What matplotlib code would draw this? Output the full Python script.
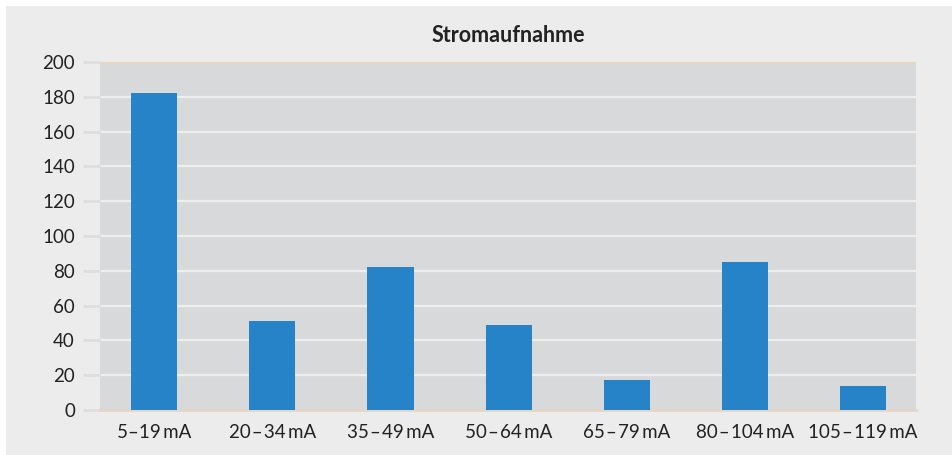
import numpy as np
import matplotlib.pyplot as plt
from matplotlib.patches import Rectangle

plt.rcParams['font.family'] = ['Lato', 'DejaVu Sans']

# Stromaufnahme per Bereich
categories = ['5\u201319\u2009mA', '20\u200a\u2013\u200a34\u2009mA', '35\u200a\u2013\u200a49\u2009mA',
              '50\u200a\u2013\u200a64\u2009mA', '65\u200a\u2013\u200a79\u2009mA',
              '80\u200a\u2013\u200a104\u2009mA', '105\u200a\u2013\u200a119\u2009mA']
values = [182, 51, 82, 49, 17, 85, 14]
yticks = [0, 20, 40, 60, 80, 100, 120, 140, 160, 180, 200]

fig = plt.figure(figsize=(9.52, 4.55), dpi=100)
fig.patch.set_facecolor('white')
# grey panel behind everything, white strip top and left
fig.patches.append(Rectangle((6/952, 0), 1, 1 - 6/455, transform=fig.transFigure,
                             facecolor='#ECECEC', edgecolor='none', zorder=-10))

ax = fig.add_axes([100/952, 1 - 410/455, 816/952, 348/455])
ax.set_facecolor('#D8D9DB')

x = np.arange(len(categories))
ax.bar(x, values, width=0.39, color='#2783C8', zorder=3)

ax.set_ylim(0, 200)
ax.set_xlim(-0.46, 6.45)
ax.set_yticks(yticks)
ax.set_xticks(x)
ax.set_xticklabels(categories, fontsize=13.5, color='#222222')
ax.tick_params(axis='y', labelsize=13.5, colors='#222222', length=12, width=2,
               color='#DEDEDE', pad=6)
ax.tick_params(axis='x', length=0, pad=10)

for y in yticks[1:-1]:
    ax.axhline(y, color='#EEEEEE', linewidth=1.6, zorder=1)
ax.axhline(200, color='#E6D7C5', linewidth=2, zorder=2)

for s in ['left', 'right', 'top']:
    ax.spines[s].set_visible(False)
ax.spines['bottom'].set_color('#E3D6C6')
ax.spines['bottom'].set_linewidth(2)

fig.text(508/952, 1 - 35/455, 'Stromaufnahme', ha='center', va='center',
         fontsize=15.5, fontweight='bold', color='#222222')

fig.savefig('out.png', dpi=100)
